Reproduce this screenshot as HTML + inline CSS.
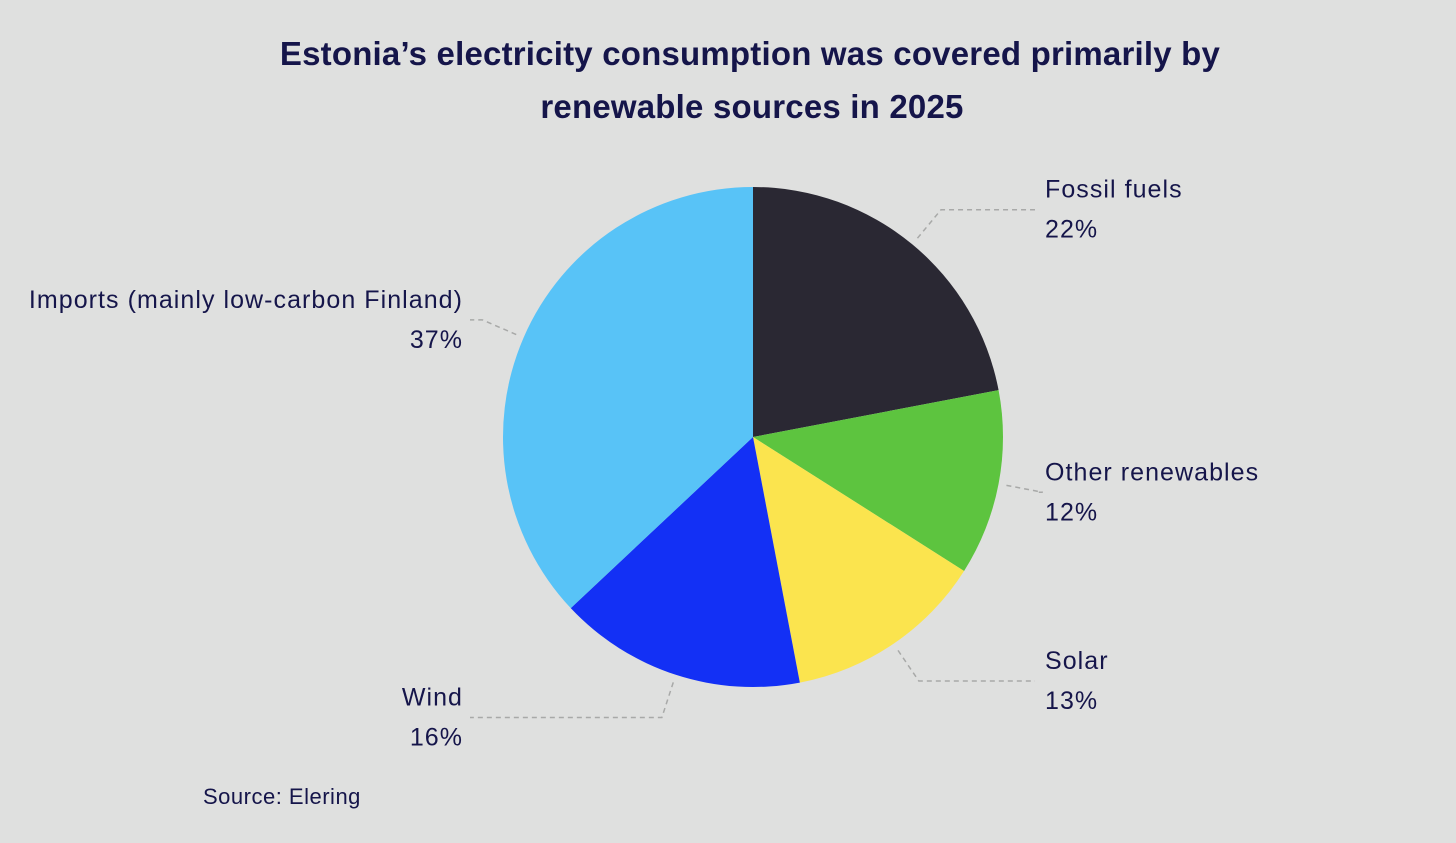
<!DOCTYPE html>
<html><head><meta charset="utf-8"><style>
html,body{margin:0;padding:0;background:#dfe0df;}
svg{display:block;font-family:"Liberation Sans",sans-serif;}
</style></head><body>
<svg id="chart" width="1456" height="843" viewBox="0 0 1456 843">
<rect width="1456" height="843" fill="#dfe0df"/>
<text x="750" y="65" text-anchor="middle" font-size="33" font-weight="bold" fill="#15154a" letter-spacing="0.2">Estonia’s electricity consumption was covered primarily by</text>
<text x="752" y="118" text-anchor="middle" font-size="33" font-weight="bold" fill="#15154a" letter-spacing="0.2">renewable sources in 2025</text>
<g id="slices"></g>
<g id="labels"></g>
<text x="203" y="804" font-size="22" fill="#15154a" letter-spacing="0.5">Source: Elering</text>
</svg>
<script>
const categories = ["Fossil fuels","Other renewables","Solar","Wind","Imports (mainly low-carbon Finland)"];
const values = [22, 12, 13, 16, 37];
const colors = ["#2a2833","#5dc43f","#fbe44e","#1330f5","#58c3f7"];
const labelNames = ["fossil-fuels","other-renewables","solar","wind","imports"];
const cx = 753, cy = 437, r = 250;
const NS = "http://www.w3.org/2000/svg";
const total = values.reduce((a,b)=>a+b,0);
function pt(a, rr){ return [cx + rr*Math.sin(a), cy - rr*Math.cos(a)]; }
const sg = document.getElementById("slices"), lg = document.getElementById("labels");
let acc = 0;
values.forEach((v,i)=>{
  const a0 = acc/total*2*Math.PI; acc += v; const a1 = acc/total*2*Math.PI;
  const p0 = pt(a0,r), p1 = pt(a1,r);
  const path = document.createElementNS(NS,"path");
  path.setAttribute("d",`M${cx},${cy} L${p0[0]},${p0[1]} A${r},${r} 0 ${a1-a0>Math.PI?1:0} 1 ${p1[0]},${p1[1]} Z`);
  path.setAttribute("fill",colors[i]);
  
  
  sg.appendChild(path);
  const am = (a0+a1)/2;
  const s = pt(am, r+8), e = pt(am, r+45);
  const right = Math.sin(am) > 0;
  const hx = right ? 1035 : 470;
  const line = document.createElementNS(NS,"polyline");
  line.setAttribute("points",`${s[0]},${s[1]} ${e[0]},${e[1]} ${hx},${e[1]}`);
  line.setAttribute("fill","none"); line.setAttribute("stroke","#a8a9a8");
  line.setAttribute("stroke-width","1.5"); line.setAttribute("stroke-dasharray","5,4");
  
  
  lg.appendChild(line);
  const tx = right ? 1045 : 463;
  const t = document.createElementNS(NS,"text");
  t.setAttribute("x",tx); t.setAttribute("font-size","25"); t.setAttribute("fill","#15154a");
  t.setAttribute("letter-spacing","1.05");
  t.setAttribute("text-anchor", right ? "start" : "end");
  const t1 = document.createElementNS(NS,"tspan"); t1.setAttribute("x",tx); t1.setAttribute("y",e[1]-12); t1.textContent = categories[i];
  const t2 = document.createElementNS(NS,"tspan"); t2.setAttribute("x",tx); t2.setAttribute("y",e[1]+28); t2.textContent = v + "%";
  t.appendChild(t1); t.appendChild(t2);
  
  
  lg.appendChild(t);
});
</script>
</body></html>
